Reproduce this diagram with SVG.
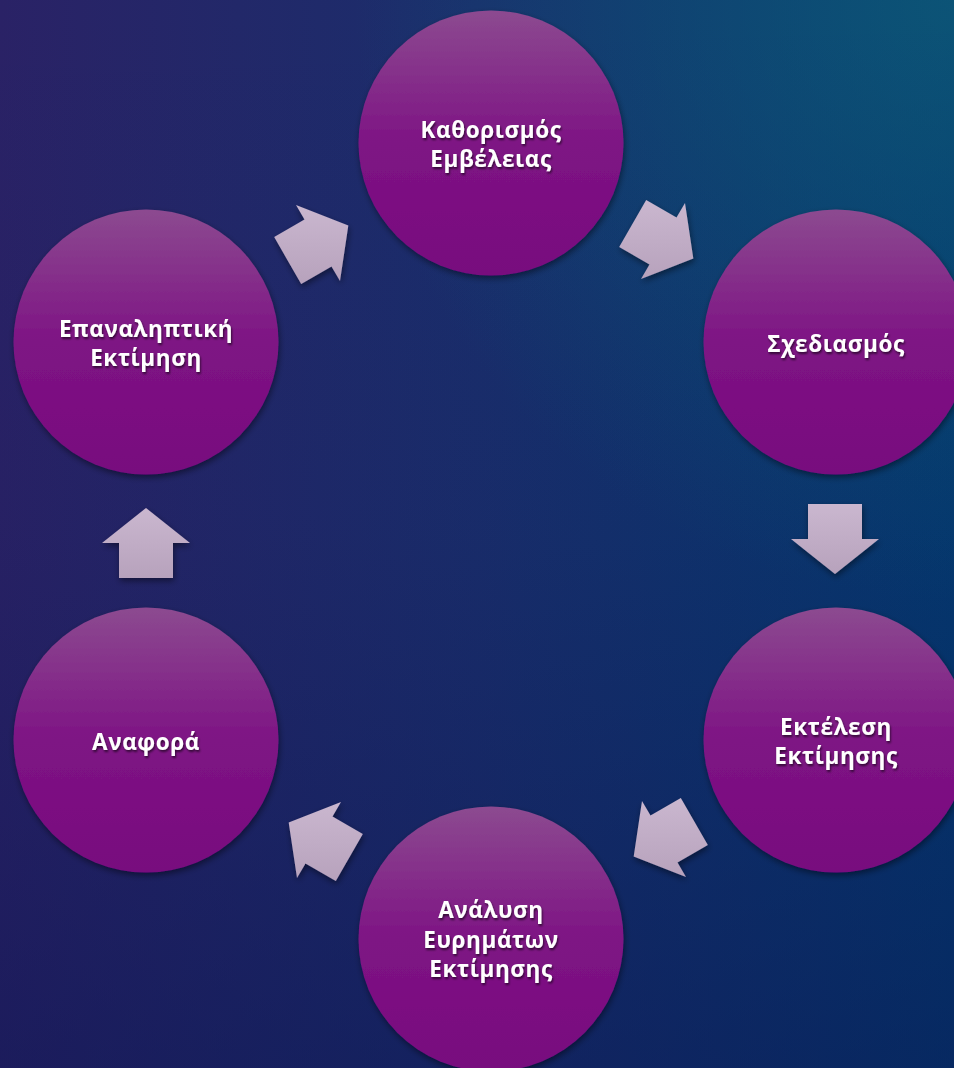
<svg xmlns="http://www.w3.org/2000/svg" width="954" height="1068" viewBox="0 0 954 1068">
<defs>
<linearGradient id="bgH" x1="0" y1="0" x2="1" y2="0">
<stop offset="0" stop-color="#2a2266"/>
<stop offset="0.5" stop-color="#1a2e6c"/>
<stop offset="1" stop-color="#043a70"/>
</linearGradient>
<linearGradient id="bgV" x1="0" y1="0" x2="0" y2="1">
<stop offset="0" stop-color="#0a1450" stop-opacity="0"/>
<stop offset="0.5" stop-color="#0a1450" stop-opacity="0.1"/>
<stop offset="1" stop-color="#0a1450" stop-opacity="0.45"/>
</linearGradient>
<radialGradient id="glow" cx="954" cy="0" r="600" gradientUnits="userSpaceOnUse">
<stop offset="0" stop-color="#0e5a78" stop-opacity="0.8"/>
<stop offset="1" stop-color="#0e5a78" stop-opacity="0"/>
</radialGradient>
<linearGradient id="circ" x1="0" y1="0" x2="0" y2="1">
<stop offset="0" stop-color="#8c4a90"/>
<stop offset="0.5" stop-color="#7e1484"/>
<stop offset="1" stop-color="#780a7e"/>
</linearGradient>
<linearGradient id="arr" x1="0" y1="0" x2="0" y2="1">
<stop offset="0" stop-color="#cab7cf"/>
<stop offset="1" stop-color="#b7a2bc"/>
</linearGradient>
<filter id="sh" x="-20%" y="-20%" width="140%" height="140%">
<feDropShadow dx="1" dy="3" stdDeviation="3" flood-color="#000" flood-opacity="0.45"/>
</filter>
<filter id="tsh" x="-10%" y="-30%" width="120%" height="160%">
<feDropShadow dx="1" dy="2" stdDeviation="1" flood-color="#000" flood-opacity="0.6"/>
</filter>
</defs>
<style>
.c { fill: url(#circ); filter: url(#sh); }
.t { font-family: "Open Sans", "Noto Sans", "DejaVu Sans", sans-serif; font-weight: bold; font-size: 22.5px; fill: #ffffff; text-anchor: middle; filter: url(#tsh); letter-spacing: 0.6px; }
.a { fill: url(#arr); filter: url(#sh); }
</style>
<rect width="954" height="1068" fill="url(#bgH)"/>
<rect width="954" height="1068" fill="url(#glow)"/>
<rect width="954" height="1068" fill="url(#bgV)"/>

<g id="connectors">
<polygon class="a" transform="translate(663,241)" points="-16.81,-40.88 13.5,-23.38 22,-38.1 30.31,17.5 -22,38.1 -13.5,23.38 -43.81,5.88"/>
<polygon class="a" transform="translate(835,539)" points="27,-35 27,0 44,0 0,35 -44,0 -27,0 -27,-35"/>
<polygon class="a" transform="translate(664,839)" points="43.81,5.88 13.5,23.38 22,38.1 -30.31,17.5 -22,-38.1 -13.5,-23.38 16.81,-40.88"/>
<polygon class="a" transform="translate(319,840)" points="16.81,40.88 -13.5,23.38 -22,38.1 -30.31,-17.5 22,-38.1 13.5,-23.38 43.81,-5.88"/>
<polygon class="a" transform="translate(146,543)" points="-27,35 -27,0 -44,0 0,-35 44,0 27,0 27,35"/>
<polygon class="a" transform="translate(318,243)" points="-43.81,-5.88 -13.5,-23.38 -22,-38.1 30.31,-17.5 22,38.1 13.5,23.38 -16.81,40.88"/>
</g>

<g id="node1">
<circle class="c" cx="491" cy="143" r="132.5"/>
<text class="t" x="491" y="138">Καθορισμός</text>
<text class="t" x="491" y="167">Εμβέλειας</text>
</g>
<g id="node2">
<circle class="c" cx="836" cy="342" r="132.5"/>
<text class="t" x="836" y="352">Σχεδιασμός</text>
</g>
<g id="node3">
<circle class="c" cx="836" cy="740" r="132.5"/>
<text class="t" x="836" y="735">Εκτέλεση</text>
<text class="t" x="836" y="764">Εκτίμησης</text>
</g>
<g id="node4">
<circle class="c" cx="491" cy="939" r="132.5"/>
<text class="t" x="491" y="918">Ανάλυση</text>
<text class="t" x="491" y="948">Ευρημάτων</text>
<text class="t" x="491" y="977">Εκτίμησης</text>
</g>
<g id="node5">
<circle class="c" cx="146" cy="740" r="132.5"/>
<text class="t" x="146" y="750">Αναφορά</text>
</g>
<g id="node6">
<circle class="c" cx="146" cy="342" r="132.5"/>
<text class="t" x="146" y="337">Επαναληπτική</text>
<text class="t" x="146" y="366">Εκτίμηση</text>
</g>
</svg>
